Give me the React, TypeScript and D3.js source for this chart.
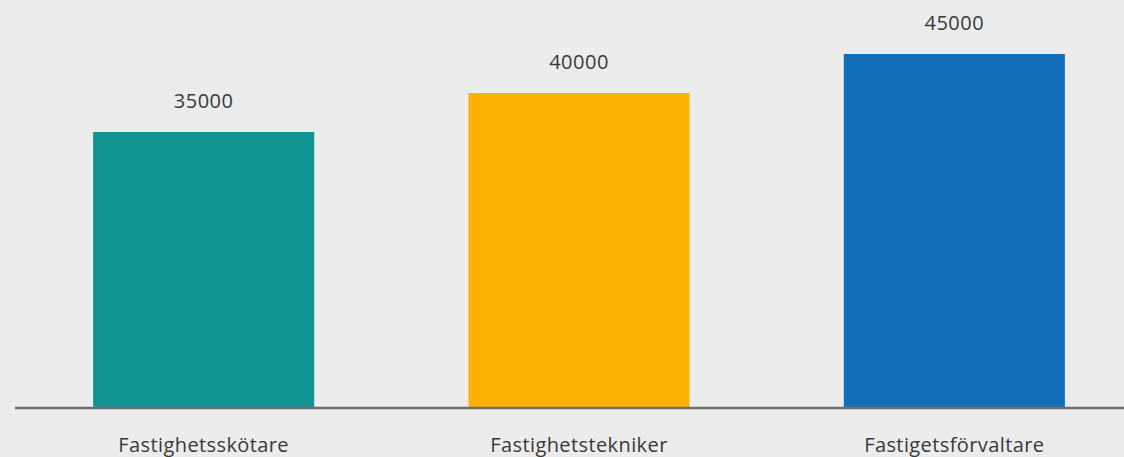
import React from "react";
import * as d3 from "d3";

const categories = ["Fastighetsskötare", "Fastighetstekniker", "Fastigetsförvaltare"];
const values = [35000, 40000, 45000];
const colors = ["#119393", "#FBB104", "#116EB8"];

const W = 1124;
const H = 457;

export default function App() {
  const x = d3.scaleBand<string>().domain(categories).range([16, 1142]).paddingInner(0.411).paddingOuter(0.2055);
  const y = d3.scaleLinear().domain([0, 51923]).range([405, 0]);
  const baseY = 408;
  const font = "'Open Sans', 'Noto Sans', sans-serif";
  return (
    <svg width={W} height={H} style={{ position: "absolute", left: 0, top: 0, background: "#ECECEC" }}>
      <rect x={0} y={0} width={W} height={H} fill="#ECECEC" />
      {categories.map((c, i) => (
        <g key={c}>
          <rect x={x(c)} y={y(values[i])} width={x.bandwidth()} height={baseY - y(values[i])} fill={colors[i]} />
          <text
            x={(x(c) as number) + x.bandwidth() / 2}
            y={y(values[i]) - 24}
            textAnchor="middle"
            fontFamily={font}
            fontSize={20}
            letterSpacing={0.5}
            fill="#3A3A3A"
          >
            {values[i]}
          </text>
          <text
            x={(x(c) as number) + x.bandwidth() / 2}
            y={452}
            textAnchor="middle"
            fontFamily={font}
            fontSize={20}
            letterSpacing={0.4}
            fill="#3A3A3A"
          >
            {c}
          </text>
        </g>
      ))}
      <line x1={15} x2={W} y1={baseY} y2={baseY} stroke="#6E6E6E" strokeWidth={2.5} />
    </svg>
  );
}
